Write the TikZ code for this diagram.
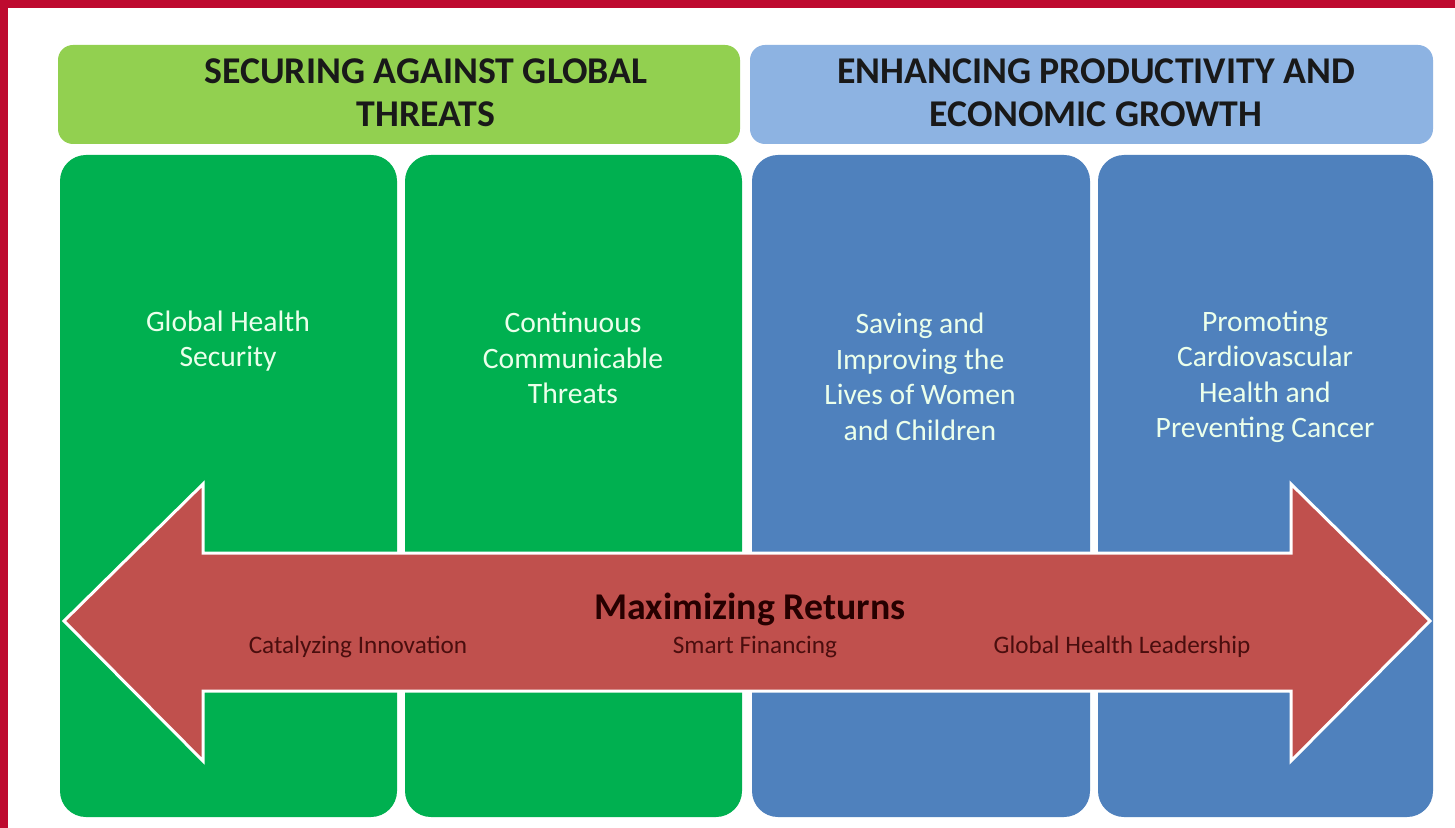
\documentclass[tikz,border=0pt]{standalone}
\usepackage{fontspec}
\setmainfont{Carlito}
\usepackage{tikz}

\definecolor{frame}{HTML}{BE0A2F}
\definecolor{lgreen}{HTML}{92D050}
\definecolor{lblue}{HTML}{8DB3E2}
\definecolor{dgreen}{HTML}{00B050}
\definecolor{dblue}{HTML}{4F81BD}
\definecolor{arrowred}{HTML}{C0504D}
\definecolor{darkred}{HTML}{4A0E0E}

\begin{document}
\begin{tikzpicture}[x=0.5pt, y=-0.5pt,
	headtext/.style={font=\fontsize{18.9}{21.5}\selectfont\bfseries, text=black!90, align=center},
	coltext/.style={font=\fontsize{14.8}{17.75}\selectfont, text=white!92!green, align=center},
	subtext/.style={font=\fontsize{12.6}{14}\selectfont, text=darkred}]

\useasboundingbox (0,0) rectangle (1455,828);
\fill[white] (0,0) rectangle (1455,828);
\fill[frame] (0,0) rectangle (1455,8);
\fill[frame] (0,0) rectangle (8,828);

% headers
\fill[lgreen, rounded corners=7.5pt] (58,45) rectangle (740,144);
\fill[lblue, rounded corners=7.5pt] (750,45) rectangle (1433,144);
\node[headtext] (threats) at (426,93) {SECURING AGAINST GLOBAL\\THREATS};
\node[headtext] (growth) at (1096,93) {ENHANCING PRODUCTIVITY AND\\ECONOMIC GROWTH};

% columns
\foreach \xa/\xb/\c in {60/397/dgreen, 405/742/dgreen, 752/1090/dblue, 1098/1433/dblue}
	\fill[\c, rounded corners=13pt] (\xa,155) rectangle (\xb,817);

\node[coltext] (security) at (228,341) {Global Health\\Security};
\node[coltext] (communicable) at (573,358) {Continuous\\Communicable\\Threats};
\node[coltext] (women) at (920,377) {Saving and\\Improving the\\Lives of Women\\and Children};
\node[coltext] (cancer) at (1265,377) {Promoting\\Cardiovascular\\Health and\\Preventing Cancer};

% double arrow
\draw[white, line width=1.5pt, fill=arrowred, line join=miter]
	(64,621) -- (203,484) -- (203,553) -- (1291,553) -- (1291,484) -- (1430,621)
	-- (1291,761) -- (1291,691) -- (203,691) -- (203,761) -- cycle;

\node[font=\fontsize{18.9}{22}\selectfont\bfseries, text=black!85!red] (returns) at (750,609) {Maximizing Returns};
\node[subtext] (innovation) at (358,647) {Catalyzing Innovation};
\node[subtext] (financing) at (755,647) {Smart Financing};
\node[subtext] (leadership) at (1122,647) {Global Health Leadership};
\end{tikzpicture}
\end{document}
